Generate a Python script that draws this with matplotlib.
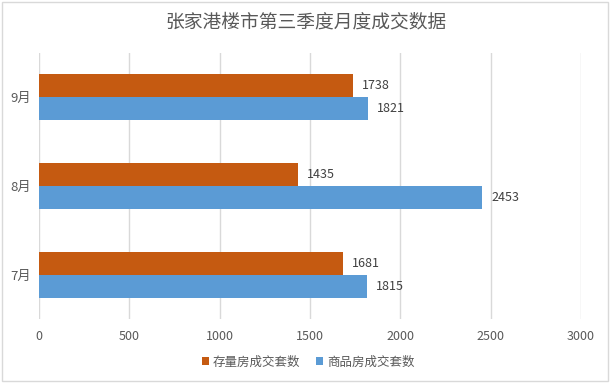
import matplotlib
matplotlib.use("Agg")
import matplotlib.pyplot as plt
from matplotlib.patches import Rectangle
import numpy as np

plt.rcParams['font.family'] = ['Noto Sans CJK SC', 'DejaVu Sans']

title = "张家港楼市第三季度月度成交数据"
categories = ["7月", "8月", "9月"]
series_names = ["存量房成交套数", "商品房成交套数"]
existing = [1681, 1435, 1738]
commodity = [1815, 2453, 1821]
xticks = [0, 500, 1000, 1500, 2000, 2500, 3000]

c_orange = "#C55A11"
c_blue = "#5B9BD5"
txt = "#595959"
grid = "#D9D9D9"

W, H = 612, 385
fig = plt.figure(figsize=(W / 100, H / 100), dpi=100)
fig.patch.set_facecolor("white")
ax = fig.add_axes([39 / W, 1 - 319 / H, (581 - 39) / W, (319 - 53) / H])

y = np.arange(len(categories))
h = 0.26
b1 = ax.barh(y + h / 2, existing, height=h, color=c_orange, label=series_names[0], zorder=3)
b2 = ax.barh(y - h / 2, commodity, height=h, color=c_blue, label=series_names[1], zorder=3)

for bars in (b1, b2):
    for r in bars:
        v = r.get_width()
        ax.annotate(f"{int(v)}", (v, r.get_y() + r.get_height() / 2),
                    xytext=(6.5, 0), textcoords="offset points",
                    ha="left", va="center", fontsize=9, color="#404040")

ax.set_xlim(0, 3000)
ax.set_ylim(-0.5, 2.5)
ax.set_xticks(xticks)
ax.set_xticklabels([str(t) for t in xticks], fontsize=9, color=txt)
ax.set_yticks(y)
ax.set_yticklabels(categories, fontsize=9.5, color=txt)
ax.tick_params(axis="both", length=0)
ax.tick_params(axis="x", pad=8)
ax.tick_params(axis="y", pad=6)
ax.xaxis.grid(True, color=grid, linewidth=1, zorder=0)
for s in ax.spines.values():
    s.set_visible(False)

fig.text(0.5, 1 - 22 / H, title, ha="center", va="center", fontsize=13.5,
         color=txt, fontweight="medium")

leg = fig.legend(handles=[b1, b2], labels=series_names, loc="center",
                 bbox_to_anchor=(308 / W, 1 - 362 / H), ncol=2, frameon=False,
                 fontsize=9, handlelength=0.6, handleheight=0.6,
                 handletextpad=0.3, columnspacing=1.2, labelcolor=txt)

fig.patches.append(Rectangle((2 / W, 4 / H), (608 - 2) / W, (383 - 4) / H,
                             transform=fig.transFigure, fill=False,
                             edgecolor=grid, linewidth=1))

fig.savefig("out.png", dpi=100, facecolor="white")
